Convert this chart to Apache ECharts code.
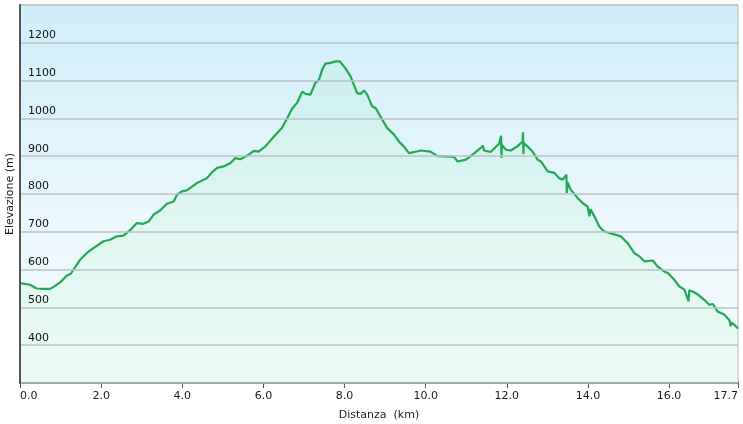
<!DOCTYPE html>
<html>
<head>
<meta charset="utf-8">
<script src="https://cdn.jsdelivr.net/npm/echarts@6/dist/echarts.min.js"></script>
<style>
html,body{margin:0;padding:0;background:#fff;}
#chart{width:743px;height:424px;}
</style>
</head>
<body>
<div id="chart"></div>
<script>
const distanceKm = [0.00,0.25,0.41,0.60,0.74,0.81,0.99,1.15,1.25,1.48,1.65,1.81,2.06,2.22,2.39,2.55,2.72,2.88,3.04,3.17,3.29,3.46,3.62,3.79,3.87,3.99,4.12,4.36,4.61,4.73,4.86,5.02,5.19,5.31,5.43,5.64,5.76,5.88,6.05,6.25,6.46,6.59,6.71,6.83,6.96,7.04,7.16,7.28,7.37,7.45,7.53,7.65,7.78,7.88,8.02,8.15,8.31,8.40,8.48,8.56,8.68,8.77,8.93,9.05,9.22,9.34,9.46,9.59,9.80,9.88,10.12,10.29,10.62,10.70,10.79,10.99,11.11,11.36,11.41,11.44,11.60,11.81,11.86,11.87,11.88,11.98,12.10,12.26,12.39,12.40,12.41,12.42,12.51,12.63,12.76,12.84,13.01,13.17,13.29,13.38,13.47,13.48,13.50,13.58,13.75,13.87,13.99,14.04,14.06,14.16,14.28,14.40,14.53,14.69,14.81,14.98,15.14,15.27,15.39,15.60,15.72,15.88,15.97,16.13,16.25,16.38,16.48,16.50,16.58,16.71,16.87,16.99,17.08,17.20,17.36,17.49,17.52,17.54,17.61,17.70];
const elevationM = [564,560,550,549,549,553,566,584,589,626,644,657,675,679,688,690,705,723,721,727,745,757,774,780,798,807,810,829,842,857,869,873,882,895,892,904,914,912,926,951,975,1001,1026,1041,1071,1065,1063,1094,1102,1129,1145,1147,1151,1151,1133,1111,1067,1065,1074,1063,1032,1027,997,975,957,939,926,908,913,915,912,900,899,898,886,891,900,922,928,915,911,933,954,895,930,917,915,926,939,963,906,935,926,913,891,886,860,856,842,838,851,803,830,811,789,776,767,741,760,741,714,701,697,692,688,670,644,635,622,624,608,595,591,573,556,547,516,545,542,534,520,507,509,489,481,466,450,460,454,444];
const xTickInterval = 2;
const yTickInterval = 100;
const xMax = 17.7;
const yMin = 300, yMax = 1300;

const seriesData = distanceKm.map((d, i) => [d, elevationM[i]]);
const FONT = 'DejaVu Sans';

const chart = echarts.init(document.getElementById('chart'), null, {renderer: 'canvas'});
chart.setOption({
  animation: false,
  backgroundColor: '#ffffff',
  grid: {
    left: 20, right: 5, top: 5, bottom: 41,
    outerBoundsMode: 'none',
    containLabel: false,
    show: true,
    borderColor: '#b4b4b4',
    borderWidth: 1,
    backgroundColor: {
      type: 'linear', x: 0, y: 0, x2: 0, y2: 1,
      colorStops: [
        {offset: 0, color: '#cfeefa'},
        {offset: 0.55, color: '#eaf7fc'},
        {offset: 1, color: '#f5fcfd'}
      ]
    }
  },
  xAxis: {
    type: 'value',
    min: 0, max: xMax, interval: xTickInterval,
    name: 'Distanza  (km)',
    nameLocation: 'middle',
    nameGap: 27,
    nameTextStyle: {fontFamily: FONT, fontSize: 11, color: '#1a1a1a'},
    axisLine: {show: true, lineStyle: {color: '#555555', width: 2}},
    axisTick: {show: true, length: 5, lineStyle: {color: '#555555', width: 1}},
    splitLine: {show: false},
    axisLabel: {
      fontFamily: FONT, fontSize: 11, color: '#1a1a1a', margin: 8,
      formatter: v => v.toFixed(1),
      alignMinLabel: 'left', alignMaxLabel: 'right',
      showMinLabel: true, showMaxLabel: true
    }
  },
  yAxis: {
    type: 'value',
    z: 10,
    min: yMin, max: yMax, interval: yTickInterval,
    name: 'Elevazione (m)',
    nameLocation: 'middle',
    nameRotate: 90,
    nameGap: 4,
    nameMoveOverlap: false,
    nameTextStyle: {fontFamily: FONT, fontSize: 11, color: '#1a1a1a'},
    axisLine: {show: true, lineStyle: {color: '#555555', width: 2}},
    axisTick: {show: false},
    splitLine: {show: true, lineStyle: {color: '#b9c3c7', width: 1.5}},
    axisLabel: {
      inside: true, margin: 8, align: 'left', verticalAlign: 'bottom',
      padding: [0, 0, 2, 0],
      formatter: v => String(v),
      fontFamily: FONT, fontSize: 11, color: '#111111',
      showMinLabel: false, showMaxLabel: false
    }
  },
  series: [{
    type: 'line',
    data: seriesData,
    showSymbol: false,
    symbol: 'none',
    smooth: false,
    sampling: null,
    lineStyle: {color: '#22a852', width: 2.2},
    areaStyle: {
      color: {
        type: 'linear', x: 0, y: 0, x2: 0, y2: 1,
        colorStops: [
          {offset: 0, color: 'rgba(170,240,200,0.35)'},
          {offset: 1, color: 'rgba(200,245,215,0.35)'}
        ]
      },
      origin: 'start'
    },
    z: 3
  }]
});
</script>
</body>
</html>
